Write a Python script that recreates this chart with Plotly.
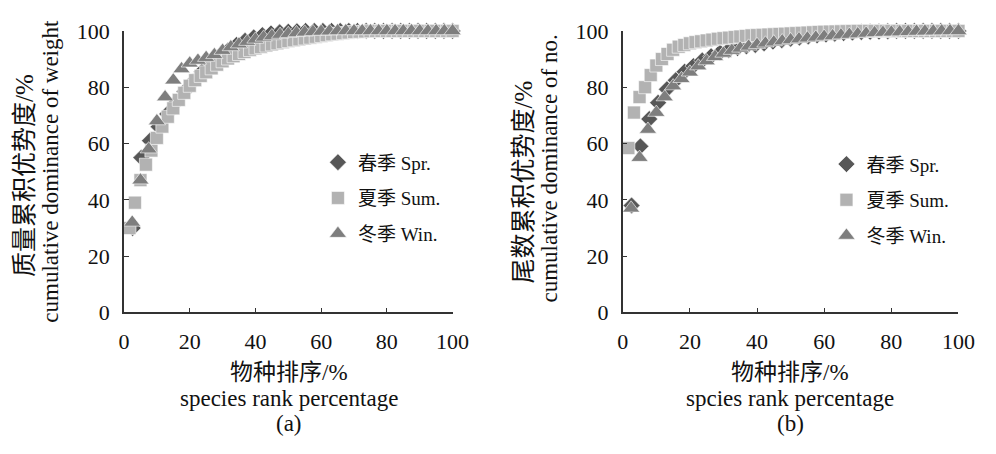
import plotly.graph_objects as go

# ---------------- data ----------------
n_spr, n_sum, n_win = 38, 60, 40
x_spr = [100 * k / n_spr for k in range(1, n_spr + 1)]
x_sum = [100 * k / n_sum for k in range(1, n_sum + 1)]
x_win = [100 * k / n_win for k in range(1, n_win + 1)]

# (a) cumulative dominance of weight
spr_w = [30, 55, 61, 66, 70.5, 74.5, 78.5, 82, 85.5, 88.5,
         91, 93, 95, 96.5, 97.7, 98.5, 99.1, 99.5, 99.7, 99.85] + [100] * 18
sum_w = [30, 39, 47, 52.5, 57.5, 62, 66, 69.5, 72.5, 75.5,
         78, 80.5, 82.5, 84, 85.3, 86.7, 88, 89.2, 90.2, 91,
         91.8, 92.5, 93.2, 93.8, 94.3, 94.8, 95.2, 95.6, 96, 96.4,
         96.7, 97, 97.3, 97.6, 97.9, 98.2, 98.5, 98.8, 99, 99.2,
         99.4, 99.6, 99.7, 99.8, 99.9] + [100] * 15
win_w = [32, 47, 58, 68, 76.5, 82.5, 86.5, 88.5, 89.5, 90.5,
         91.5, 93, 94.3, 95.3, 96.2, 97, 97.7, 98.2, 98.7, 99,
         99.3, 99.5, 99.7, 99.8, 99.9] + [100] * 15

# (b) cumulative dominance of number
spr_n = [38, 59, 68.7, 74.5, 79.3, 82.5, 85.5, 87.5, 89.5, 91,
         92.3, 93.2, 93.9, 94.5, 95, 95.6, 96.2, 96.7, 97.2, 97.6,
         98, 98.4, 98.7, 99, 99.2, 99.4, 99.6, 99.7, 99.8, 99.9] + [100] * 8
sum_n = [58.4, 71, 76.5, 80, 84.3, 87.7, 90, 91.8, 93.3, 94.4,
         95, 95.6, 96, 96.3, 96.6, 96.9, 97.2, 97.4, 97.6, 97.8,
         98, 98.2, 98.4, 98.5, 98.6, 98.7, 98.8, 98.9, 99, 99.1,
         99.2, 99.3, 99.4, 99.5, 99.6, 99.7, 99.75, 99.8, 99.85, 99.9,
         99.95] + [100] * 19
win_n = [37, 55, 65, 71, 76.5, 80.4, 83, 85.3, 87.5, 89.3,
         90.8, 92, 93, 93.8, 94.5, 95.1, 95.6, 96, 96.4, 96.8,
         97.1, 97.4, 97.7, 98, 98.2, 98.5, 98.7, 98.9, 99.1, 99.3,
         99.4, 99.5, 99.6, 99.7, 99.8, 99.85, 99.9, 99.95, 100, 100]

names = ["春季 Spr.", "夏季 Sum.", "冬季 Win."]
ticks = [0, 20, 40, 60, 80, 100]

FONT = "Liberation Serif, Times New Roman, Noto Sans CJK SC"
TXT = "#111111"

styles = [
    dict(symbol="diamond", size=13, color="#575757"),
    dict(symbol="square", size=13, color="#b2b2b2"),
    dict(symbol="triangle-up", size=15, color="#7e7e7e"),
]

fig = go.Figure()

panels = [
    ("x", "y", "legend", [(x_spr, spr_w), (x_sum, sum_w), (x_win, win_w)]),
    ("x2", "y2", "legend2", [(x_spr, spr_n), (x_sum, sum_n), (x_win, win_n)]),
]
for xa, ya, lg, series in panels:
    for i, (xs, ys) in enumerate(series):
        st = styles[i]
        fig.add_trace(go.Scatter(
            x=xs, y=ys, mode="markers", name=names[i],
            xaxis=xa, yaxis=ya, legend=lg, legendgroup=f"{lg}{i}",
            cliponaxis=False,
            marker=dict(symbol=st["symbol"], size=st["size"], color=st["color"],
                        line=dict(width=0.6, color="white")),
        ))

axis_common = dict(
    range=[0, 100], tickvals=ticks, showline=True, linecolor="#333",
    linewidth=1.5, ticks="inside", ticklen=5, tickcolor="#333", tickwidth=1.3,
    showgrid=False, zeroline=False, tickfont=dict(family=FONT, size=22, color=TXT),
    ticklabelstandoff=8,
)

fig.update_layout(
    width=996, height=454,
    margin=dict(l=0, r=0, t=0, b=0),
    paper_bgcolor="white", plot_bgcolor="white",
    font=dict(family=FONT, color=TXT),
    xaxis=dict(domain=[121.7 / 996, 457.7 / 996], anchor="y", **axis_common),
    yaxis=dict(domain=[1 - 318 / 454, 1 - 20 / 454], anchor="x", **axis_common),
    xaxis2=dict(domain=[631.7 / 996, 975 / 996], anchor="y2", **axis_common),
    yaxis2=dict(domain=[1 - 318 / 454, 1 - 20 / 454], anchor="x2", **axis_common),
    legend=dict(x=320 / 996, y=1 - 139 / 454, xanchor="left", yanchor="top",
                font=dict(family=FONT, size=19, color=TXT), tracegroupgap=8,
                itemwidth=30, bgcolor="rgba(0,0,0,0)"),
    legend2=dict(x=840 / 996, y=1 - 141 / 454, xanchor="left", yanchor="top",
                 font=dict(family=FONT, size=19, color=TXT), tracegroupgap=8,
                 itemwidth=30, bgcolor="rgba(0,0,0,0)"),
)

ann = []
def add(text, x, y, size, angle=0):
    ann.append(dict(text=text, x=x / 996, y=1 - y / 454, xref="paper", yref="paper",
                    showarrow=False, textangle=angle, xanchor="center", yanchor="middle",
                    font=dict(family=FONT, size=size, color=TXT)))

# panel (a)
add("质量累积优势度/%", 20, 173, 25, -90)
add("cumulative dominance of weight", 47, 168, 23, -90)
add("物种排序/%", 290, 381, 23)
add("species rank percentage", 290, 409, 23)
add("(a)", 290, 436, 23)
# panel (b)
add("尾数累积优势度/%", 530, 180, 25, -90)
add("cumulative dominance of no.", 557, 166, 23, -90)
add("物种排序/%", 803, 381, 23)
add("spcies rank percentage", 803, 409, 23)
add("(b)", 803, 436, 23)

fig.update_layout(annotations=ann)
fig.write_html("out.html")
